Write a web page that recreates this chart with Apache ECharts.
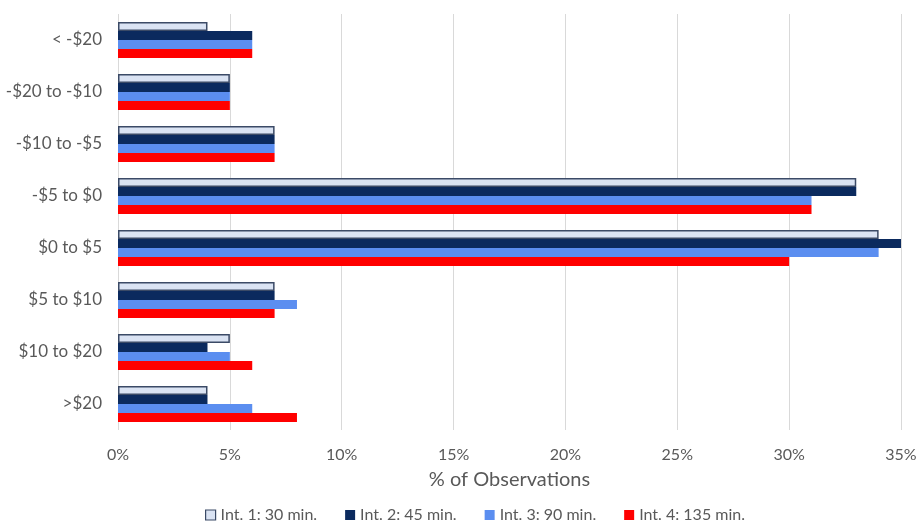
<!DOCTYPE html>
<html><head><meta charset="utf-8">
<script src="https://cdn.jsdelivr.net/npm/echarts@6/dist/echarts.min.js"></script>
<style>html,body{margin:0;padding:0;background:#fff}#c{width:920px;height:529px}</style>
</head><body><div id="c"></div>
<script>
const categories = ['< -$20', '-$20 to -$10', '-$10 to -$5', '-$5 to $0', '$0 to $5', '$5 to $10', '$10 to $20', '>$20'];
const seriesNames = ['Int. 1: 30 min.', 'Int. 2: 45 min.', 'Int. 3: 90 min.', 'Int. 4: 135 min.'];
const int1 = [4, 5, 7, 33, 34, 7, 5, 4];
const int2 = [6, 5, 7, 33, 35, 7, 4, 4];
const int3 = [6, 5, 7, 31, 34, 8, 5, 6];
const int4 = [6, 5, 7, 31, 30, 7, 6, 8];
const xTicks = [0, 5, 10, 15, 20, 25, 30, 35];

const font = 'Lato';
const txt = '#595959';
const fills = ['#dae3f3', '#0b2a5e', '#5b8ef0', '#ff0000'];
const data = [int1, int2, int3, int4];

const chart = echarts.init(document.getElementById('c'));
chart.setOption({
  animation: false,
  textStyle: { fontFamily: font },
  grid: { left: 118, right: 19, top: 14, bottom: 99, containLabel: false },
  xAxis: {
    type: 'value', min: xTicks[0], max: xTicks[xTicks.length - 1], interval: 5,
    axisLabel: { formatter: v => v + '%', color: txt, fontSize: 16, fontFamily: font, margin: 17 },
    axisLine: { show: false }, axisTick: { show: false },
    splitLine: { lineStyle: { color: '#d9d9d9', width: 1 } },
    name: '% of Observations', nameLocation: 'middle', nameGap: 40,
    nameTextStyle: { color: txt, fontSize: 20, fontFamily: font }
  },
  yAxis: {
    type: 'category', data: categories, inverse: true,
    axisLine: { show: false }, axisTick: { show: false },
    axisLabel: { color: txt, fontSize: 17, fontFamily: font, margin: 16 }
  },
  legend: {
    bottom: 1, left: 200, itemWidth: 10, itemHeight: 10, itemGap: 28,
    textStyle: { color: txt, fontSize: 16, fontFamily: font },
    data: seriesNames.map((n, i) => ({ name: n, icon: 'rect',
      itemStyle: i === 0 ? { color: fills[0], borderColor: '#3b4a66', borderWidth: 1.2 } : { color: fills[i] } }))
  },
  series: seriesNames.map((n, i) => ({
    name: n, type: 'bar', data: data[i], barGap: '0%', barCategoryGap: '31%',
    itemStyle: i === 0 ? { color: fills[0], borderColor: '#3b4a66', borderWidth: 1.5 } : { color: fills[i] }
  }))
});
</script></body></html>
